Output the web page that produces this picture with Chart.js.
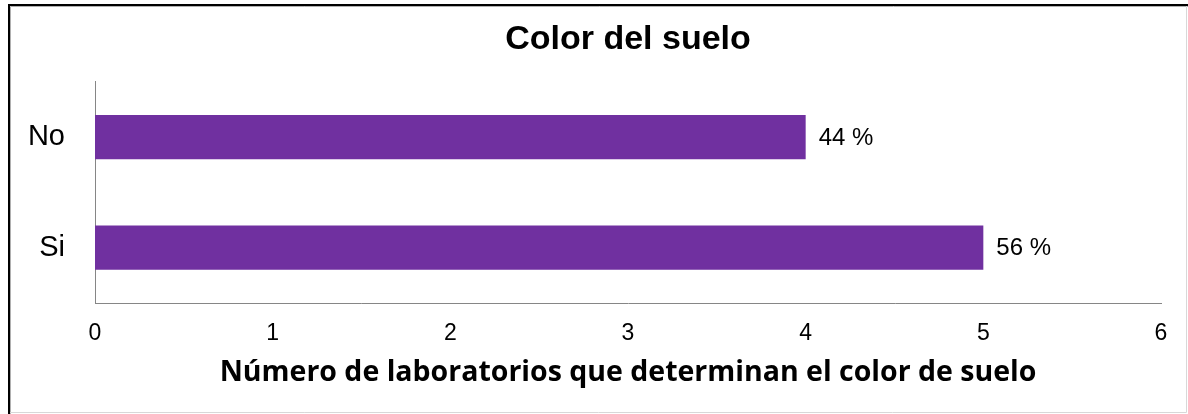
<!DOCTYPE html>
<html>
<head>
<meta charset="utf-8">
<script src="https://cdn.jsdelivr.net/npm/chart.js@4.4.0/dist/chart.umd.min.js"></script>
<style>
  html, body { margin: 0; padding: 0; background: #fff; }
  #wrap { width: 1188px; height: 414px; position: relative; }
</style>
</head>
<body>
<div id="wrap"><canvas id="c" width="1188" height="414"></canvas></div>
<script>
const categories = ['No', 'Si'];
const values = [4, 5];
const percentLabels = ['44 %', '56 %'];
const xTicks = [0, 1, 2, 3, 4, 5, 6];
const chartTitle = 'Color del suelo';
const xAxisTitle = 'Número de laboratorios que determinan el color de suelo';

const barColor = '#7030A0';

const frame = {
  id: 'frame',
  afterDraw(chart) {
    const ctx = chart.ctx;
    ctx.save();
    ctx.strokeStyle = '#000';
    ctx.lineWidth = 2;
    ctx.beginPath();
    ctx.moveTo(9, 414);
    ctx.lineTo(9, 5);
    ctx.lineTo(1188, 5);
    ctx.stroke();
    ctx.strokeStyle = '#b0b0b0';
    ctx.lineWidth = 1;
    ctx.beginPath();
    ctx.moveTo(10.5, 414);
    ctx.lineTo(10.5, 6.5);
    ctx.lineTo(1188, 6.5);
    ctx.stroke();
    ctx.strokeStyle = '#d8d8d8';
    ctx.beginPath();
    ctx.moveTo(1186.5, 6);
    ctx.lineTo(1186.5, 412.5);
    ctx.lineTo(10, 412.5);
    ctx.stroke();
    ctx.restore();
  }
};

const barLabels = {
  id: 'barLabels',
  afterDatasetsDraw(chart) {
    const ctx = chart.ctx;
    const meta = chart.getDatasetMeta(0);
    ctx.save();
    ctx.font = '24px "Liberation Sans", Arial, sans-serif';
    ctx.fillStyle = '#000';
    ctx.textBaseline = 'middle';
    ctx.textAlign = 'left';
    meta.data.forEach((bar, i) => {
      ctx.fillText(percentLabels[i], bar.x + 13, bar.y + 1);
    });
    ctx.restore();
  }
};

new Chart(document.getElementById('c'), {
  type: 'bar',
  data: {
    labels: categories,
    datasets: [{
      data: values,
      backgroundColor: barColor,
      borderWidth: 0,
      categoryPercentage: 1,
      barPercentage: 0.4
    }]
  },
  options: {
    indexAxis: 'y',
    responsive: false,
    animation: false,
    devicePixelRatio: 1,
    layout: { padding: { left: 27, right: 27, top: 0, bottom: 0 } },
    plugins: {
      legend: { display: false },
      tooltip: { enabled: false },
      title: {
        display: true,
        fullSize: false,
        text: chartTitle,
        color: '#000',
        font: { family: '"Liberation Sans", Arial, sans-serif', size: 34, weight: 'bold', lineHeight: 1.2 },
        padding: { top: 19, bottom: 22 }
      }
    },
    scales: {
      x: {
        min: 0,
        max: 6,
        afterBuildTicks(scale) { scale.ticks = xTicks.map(v => ({ value: v })); },
        grid: { display: false, drawTicks: false },
        border: { display: true, color: '#868686', width: 1 },
        ticks: {
          color: '#000',
          padding: 17,
          font: { family: '"Liberation Sans", Arial, sans-serif', size: 23 }
        },
        title: {
          display: true,
          text: xAxisTitle,
          color: '#000',
          font: { family: '"Open Sans", Lato, sans-serif', size: 28.5, weight: 'bold', lineHeight: 1.2 },
          padding: { top: 24, bottom: 24 }
        },
        afterFit(scale) { scale.height = 111; }
      },
      y: {
        grid: { display: false, drawTicks: false },
        border: { display: true, color: '#868686', width: 1 },
        ticks: {
          color: '#000',
          padding: 30,
          font: { family: '"Liberation Sans", Arial, sans-serif', size: 29 }
        },
        afterFit(scale) { scale.width = 68; }
      }
    }
  },
  plugins: [barLabels, frame]
});
</script>
</body>
</html>
